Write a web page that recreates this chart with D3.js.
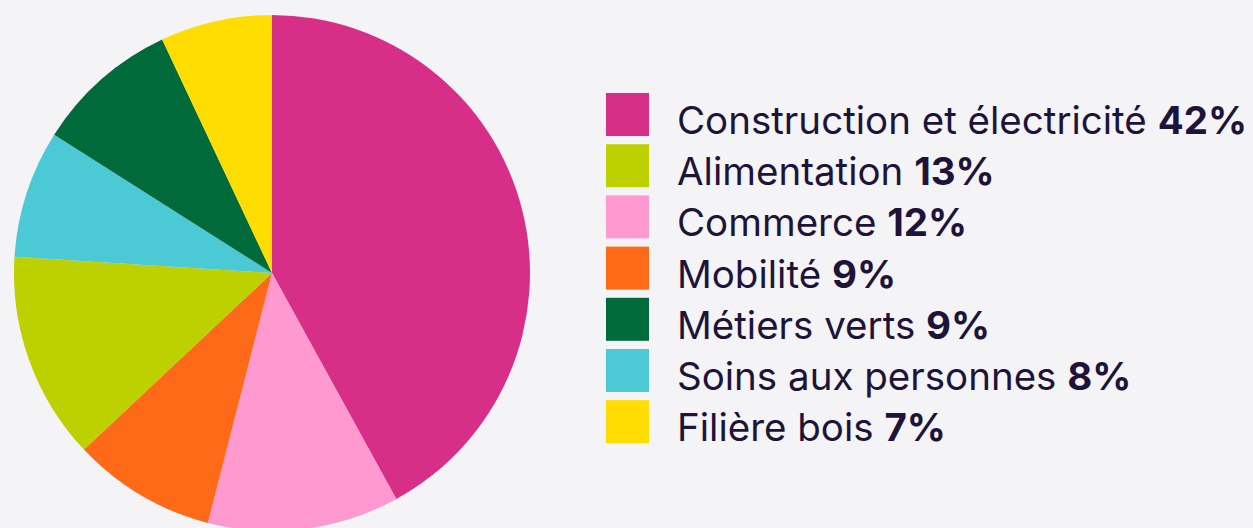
<!DOCTYPE html>
<html><head><meta charset="utf-8">
<script src="https://cdn.jsdelivr.net/npm/d3@7"></script>
<style>
html,body{margin:0;padding:0;background:#F4F4F6;}
svg{display:block;}
</style></head>
<body>
<svg id="chart" width="1253" height="528"></svg>
<script>
// Pie order (clockwise from 12 o'clock)
const pieCategories = ["Construction et électricité","Commerce","Mobilité","Alimentation","Soins aux personnes","Métiers verts","Filière bois"];
const pieValues = [42,12,9,13,8,9,7];
// Legend order
const legendCategories = ["Construction et électricité","Alimentation","Commerce","Mobilité","Métiers verts","Soins aux personnes","Filière bois"];
const legendValues = [42,13,12,9,9,8,7];
const colorMap = {
  "Construction et électricité":"#D72E88",
  "Alimentation":"#BDD000",
  "Commerce":"#FF99CF",
  "Mobilité":"#FF6A18",
  "Métiers verts":"#006A3A",
  "Soins aux personnes":"#4BCAD6",
  "Filière bois":"#FFDD00"
};

const svg = d3.select("#chart");
const cx = 272, cy = 273, r = 258;
const color = d3.scaleOrdinal().domain(Object.keys(colorMap)).range(Object.values(colorMap));

const pie = d3.pie().sort(null).value(d => d.v);
const arc = d3.arc().innerRadius(0).outerRadius(r);
const data = pieCategories.map((c,i)=>({c, v: pieValues[i]}));

svg.append("g").attr("transform",`translate(${cx},${cy})`)
  .selectAll("path").data(pie(data)).join("path")
  .attr("d", arc).attr("fill", d => color(d.data.c));

const font = "Inter, 'Noto Sans', sans-serif";
const lg = svg.append("g");
const y = d3.scalePoint().domain(legendCategories).range([93, 93 + 51.2*6]);
legendCategories.forEach((c,i)=>{
  const yy = y(c);
  lg.append("rect").attr("x",606).attr("y",yy).attr("width",43).attr("height",43).attr("fill",color(c));
  const t = lg.append("text").attr("x",677).attr("y",yy+41)
    .attr("font-family",font).attr("font-size",38.5).attr("fill","#1E1339");
  t.append("tspan").text(c + " ");
  t.append("tspan").attr("font-weight",700).text(legendValues[i] + "%");
});
</script>
</body></html>
